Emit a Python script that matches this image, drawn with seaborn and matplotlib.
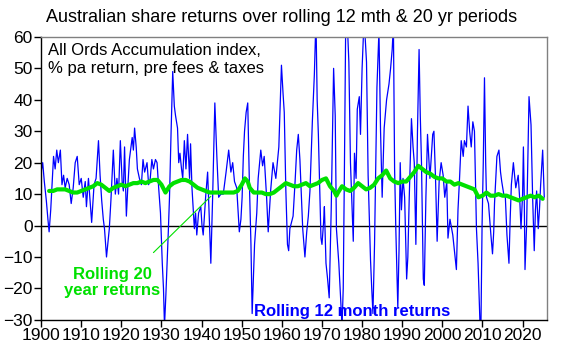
import numpy as np
import pandas as pd
import matplotlib
matplotlib.use("Agg")
import matplotlib.pyplot as plt
import seaborn as sns

# rolling 12 month returns (% pa): decimal year, value
m12_year = [
    1900.0, 1900.4, 1900.8, 1901.3, 1901.7, 1902.0, 1902.4, 1902.8, 1903.1, 1903.5,
    1903.9, 1904.3, 1904.8, 1905.2, 1905.6, 1906.0, 1906.5, 1907.0, 1907.5, 1908.0,
    1908.5, 1909.0, 1909.5, 1910.0, 1910.5, 1911.0, 1911.3, 1911.8, 1912.2, 1912.6,
    1913.2, 1913.7, 1914.3, 1914.7, 1915.1, 1915.5, 1915.8, 1916.3, 1916.7, 1917.0,
    1917.4, 1918.0, 1918.5, 1918.9, 1919.3, 1919.75, 1920.2, 1920.5, 1920.8, 1921.25,
    1921.6, 1922.0, 1922.7, 1923.0, 1923.3, 1923.7, 1924.0, 1924.5, 1925.0, 1925.4,
    1925.8, 1926.4, 1926.8, 1927.2, 1927.6, 1928.0, 1928.5, 1928.9, 1929.3, 1929.75,
    1930.2, 1930.5, 1930.75, 1931.1, 1931.4, 1931.7, 1932.0, 1932.4, 1932.8, 1933.2,
    1933.5, 1934.0, 1934.3, 1934.6, 1935.0, 1935.3, 1935.7, 1936.1, 1936.5, 1937.0,
    1937.25, 1937.6, 1938.2, 1938.5, 1938.8, 1939.25, 1939.8, 1940.1, 1940.4, 1941.0,
    1941.5, 1941.9, 1942.3, 1942.75, 1943.3, 1943.8, 1944.25, 1944.8, 1945.4, 1946.1,
    1946.75, 1947.3, 1947.75, 1948.2, 1948.75, 1949.4, 1949.8, 1950.1, 1950.4, 1950.7,
    1951.1, 1951.5, 1951.9, 1952.3, 1952.6, 1953.2, 1953.75, 1954.1, 1954.75, 1955.2,
    1955.6, 1956.2, 1956.6, 1957.2, 1957.8, 1958.5, 1959.25, 1959.9, 1960.3, 1960.6,
    1961.0, 1961.4, 1961.7, 1962.0, 1962.8, 1963.3, 1963.7, 1964.1, 1964.5, 1965.2,
    1965.75, 1966.2, 1966.6, 1967.0, 1967.6, 1968.1, 1968.5, 1968.8, 1969.1, 1969.5,
    1969.75, 1970.0, 1970.4, 1970.6, 1971.0, 1971.4, 1971.8, 1972.3, 1972.9, 1973.3,
    1973.6, 1974.2, 1974.6, 1975.0, 1975.3, 1975.6, 1975.9, 1976.2, 1976.7, 1977.1,
    1977.5, 1977.8, 1978.1, 1978.5, 1978.8, 1979.3, 1979.6, 1980.0, 1980.5, 1981.1,
    1981.5, 1982.1, 1982.4, 1982.7, 1983.1, 1983.4, 1983.7, 1984.2, 1984.6, 1985.0,
    1985.5, 1986.1, 1986.7, 1987.1, 1987.5, 1987.8, 1988.1, 1988.4, 1988.9, 1989.2,
    1989.5, 1989.8, 1990.2, 1990.6, 1991.1, 1991.4, 1991.75, 1992.3, 1992.7, 1993.0,
    1993.4, 1993.8, 1994.2, 1994.5, 1994.8, 1995.25, 1995.5, 1995.9, 1996.3, 1996.9,
    1997.6, 1997.9, 1998.3, 1998.7, 1999.2, 1999.7, 2000.2, 2000.6, 2001.1, 2001.4,
    2001.9, 2002.6, 2003.0, 2003.5, 2003.9, 2004.25, 2004.7, 2005.2, 2005.5, 2006.0,
    2006.4, 2006.8, 2007.2, 2007.6, 2008.0, 2008.5, 2008.9, 2009.1, 2009.4, 2009.6,
    2009.9, 2010.2, 2010.5, 2010.8, 2011.0, 2011.5, 2012.1, 2012.5, 2012.8, 2013.0,
    2013.6, 2014.1, 2014.5, 2014.8, 2015.3, 2015.7, 2016.1, 2016.6, 2016.9, 2017.2,
    2017.7, 2018.3, 2018.9, 2019.3, 2019.6, 2020.0, 2020.2, 2020.4, 2020.6, 2021.0,
    2021.3, 2021.6, 2022.1, 2022.5, 2022.9, 2023.2, 2023.5, 2023.9, 2024.2, 2024.5,
    2025.0, 2025.4,
]
m12_ret = [
    17, 20, 14, 8, 2, -2, 5, 15, 22, 18,
    24, 20, 24, 13, 16, 12, 15, 13, 7, 12,
    20, 22, 13, 15, 9, 14, 6, 15, 8, 1,
    13, 15, 27, 16, 8, 2, -1, -10, -5, -1,
    8, 24, 10, 15, 10, 27, 14, 11, 25, 3,
    12, 21, 28, 24, 31, 25, 18, 15, 13, 21,
    17, 20, 13, 15, 21, 18, 21, 20, 12, 4,
    -12, -20, -32, -22, -12, -2, 9, 30, 49, 38,
    35, 31, 20, 23, 18, 15, 27, 18, 29, 15,
    26, 12, -1, 4, -3, 4, 6, 0, -3, 9,
    17, 3, -12, 9, 39, 22, 9, 10, 10, 17,
    24, 17, 20, 14, 12, -2, 2, 9, 22, 30,
    36, 39, 14, -6, -28, -6, 4, 15, 24, 19,
    22, 9, -2, 11, 20, 15, 25, 51, 42, 36,
    11, -6, -8, -1, 3, 14, 24, 29, 21, -1,
    -10, -2, 3, 11, 33, 48, 66, 40, 29, 9,
    -4, -6, 1, 6, -12, -17, -23, 5, 50, 35,
    -1, -12, -22, -32, -20, 19, 62, 68, 52, 20,
    6, -5, 23, 15, 37, 41, 29, 50, 66, 52,
    16, -11, -20, -28, -6, 20, 44, 62, 30, 9,
    31, 40, 45, 50, 56, 64, 18, -1, -26, -8,
    20, 5, 15, 9, -17, -10, 9, 34, 25, 20,
    -6, 30, 56, 35, 20, -17, -19, 9, 29, 15,
    29, 30, 15, -5, 14, 20, 16, 9, 14, -4,
    2, -3, -8, -14, 5, 14, 27, 22, 27, 25,
    38, 30, 25, 33, 30, -1, -12, -20, -32, -34,
    0, 20, 47, 20, 9, 7, -3, -9, -2, 7,
    22, 24, 17, 14, 10, 9, -3, -12, 2, 13,
    20, 12, 16, 8, -1, 10, 25, 10, -14, 0,
    20, 41, 32, 9, -8, 5, 11, -1, 5, 13,
    24, 9,
]

# rolling 20 year returns (% pa)
y20_year = [
    1902, 1903, 1904, 1905, 1906, 1907, 1908, 1909, 1910, 1911,
    1912, 1913, 1914, 1915, 1916, 1917, 1918, 1919, 1920, 1921,
    1922, 1923, 1924, 1925, 1926, 1927, 1928, 1929, 1930, 1931,
    1932, 1933, 1934, 1935, 1936, 1937, 1938, 1939, 1940, 1941,
    1942, 1943, 1944, 1945, 1946, 1947, 1948, 1949, 1950, 1950.8,
    1951.5, 1952, 1953, 1954, 1955, 1956, 1957, 1958, 1959, 1960,
    1961, 1962, 1963, 1964, 1965, 1966, 1967, 1968, 1969, 1970,
    1971, 1972, 1973, 1973.6, 1974, 1975, 1976, 1977, 1978, 1979,
    1980, 1981, 1982, 1983, 1984, 1985, 1986, 1987, 1988, 1989,
    1990, 1991, 1992, 1993, 1994, 1995, 1996, 1997, 1998, 1999,
    2000, 2001, 2002, 2003, 2004, 2005, 2006, 2007, 2008, 2009,
    2010, 2011, 2012, 2013, 2014, 2015, 2016, 2017, 2018, 2019,
    2020, 2021, 2022, 2023, 2024, 2025,
]
y20_ret = [
    11, 11, 11.5, 11.5, 11.5, 11, 10.5, 10.5, 11, 11.5,
    12, 12.5, 13.5, 13, 12, 11, 12, 12.5, 13, 12.5,
    13, 13.5, 13.5, 14, 13.5, 14, 14.5, 14.5, 13, 10.5,
    12.5, 13.5, 14, 14.5, 14.5, 14, 13, 12, 11.5, 11,
    10.5, 10.5, 10.5, 10.5, 10.5, 10.5, 10.5, 11, 13, 15,
    14, 12, 10.5, 10.5, 10.5, 10, 10, 10.5, 11.5, 12.5,
    13.5, 13, 12.5, 12.5, 13, 13.5, 12.5, 13, 13.5, 14.5,
    15, 12.5, 11, 9.5, 10.5, 12.5, 11.5, 11, 12, 13.5,
    12.5, 11.5, 12, 13, 15, 16, 17.5, 15, 14, 13.5,
    14, 14, 15.5, 17, 19, 18, 17, 16.5, 15.5, 15,
    15, 14, 14, 13, 13.5, 13, 12.5, 12, 11.5, 9,
    9.5, 10.5, 9.5, 9.5, 10, 9.5, 9.5, 9, 8.5, 8,
    8.5, 9, 9.5, 9, 9.5, 8.5,
]

x_ticks = list(range(1900, 2021, 10))
y_ticks = list(range(-30, 61, 10))

m12 = pd.DataFrame({"year": m12_year, "ret": m12_ret})
y20 = pd.DataFrame({"year": y20_year, "ret": y20_ret})

BLUE = "#0000FF"
GREEN = "#00E000"

sns.set_theme(style="ticks")
plt.rcParams["font.family"] = ["Liberation Sans", "DejaVu Sans"]

fig, ax = plt.subplots(figsize=(5.63, 3.55), dpi=100)
fig.subplots_adjust(left=0.073, right=0.971, top=0.896, bottom=0.099)

sns.lineplot(data=m12, x="year", y="ret", ax=ax, color=BLUE, lw=0.9, zorder=2)
sns.lineplot(data=y20, x="year", y="ret", ax=ax, color=GREEN, lw=3.0, zorder=3)
ax.axhline(0, color="black", lw=1, zorder=1)

ax.set_xlim(1900, 2026)
ax.set_ylim(-30, 60)
ax.set_xticks(x_ticks)
ax.set_yticks(y_ticks)
ax.set_xlabel("")
ax.set_ylabel("")
ax.tick_params(axis="both", direction="out", length=5, width=1, colors="black",
               labelsize=12.5, pad=1)

for side in ["left", "bottom"]:
    ax.spines[side].set_color("black")
    ax.spines[side].set_linewidth(1)
for side in ["top", "right"]:
    ax.spines[side].set_visible(True)
    ax.spines[side].set_color("#808080")
    ax.spines[side].set_linewidth(1)

fig.text(0.5, 1 - 17 / 355, "Australian share returns over rolling 12 mth & 20 yr periods",
         ha="center", va="center", fontsize=13, color="black")

ax.text(1901.8, 55.7, "All Ords Accumulation index,", ha="left", va="center",
        fontsize=12, color="black")
ax.text(1901.8, 49.8, "% pa return, pre fees & taxes", ha="left", va="center",
        fontsize=12, color="black")

ax.text(1917.8, -18, "Rolling 20\nyear returns", ha="center", va="center",
        fontsize=12, fontweight="bold", color=GREEN, linespacing=1.1)
ax.plot([1928, 1942.3], [-8.6, 9.3], color=GREEN, lw=0.8, zorder=4)

ax.text(1953, -27.4, "Rolling 12 month returns", ha="left", va="center",
        fontsize=12, fontweight="bold", color=BLUE)

fig.savefig("out.png", dpi=100)
